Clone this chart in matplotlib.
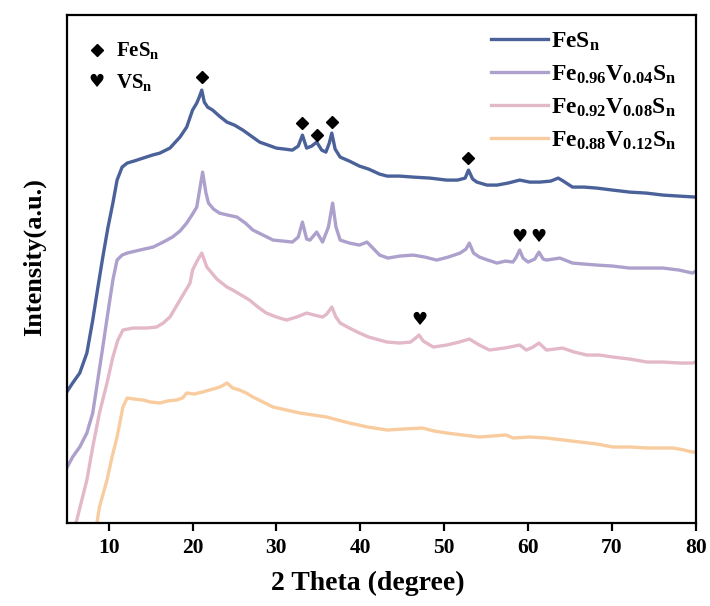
import matplotlib
matplotlib.use("Agg")
import matplotlib.pyplot as plt

plt.rcParams["font.family"] = ["Liberation Serif", "DejaVu Serif"]
plt.rcParams["font.weight"] = "bold"
plt.rcParams["mathtext.fontset"] = "custom"
plt.rcParams["mathtext.rm"] = "Liberation Serif:bold"
plt.rcParams["mathtext.bf"] = "Liberation Serif:bold"
plt.rcParams["mathtext.it"] = "Liberation Serif:bold"

# XRD patterns, values (2 theta in degree, intensity a.u.)
tt_fes = [5.0, 5.7, 6.55, 7.4, 8.1, 8.7, 9.3, 9.9, 10.5, 11.0, 11.6, 12.2, 13.0, 14.1,
          15.2, 16.1, 17.3, 18.5, 19.3, 20.0, 20.5, 20.8, 21.1, 21.4, 21.8, 22.4, 23.2,
          24.1, 25.0, 26.0, 27.0, 28.0, 29.0, 30.0, 31.0, 31.9, 32.6, 33.1, 33.6, 34.2,
          34.8, 35.4, 35.9, 36.3, 36.6, 37.0, 37.6, 38.7, 39.9, 41.0, 42.3, 43.2,
          44.7, 46.3, 48.3, 50.3, 51.6, 52.5, 52.9, 53.4, 53.9, 55.1, 56.3, 57.6, 59.0,
          60.2, 61.4, 62.7, 63.6, 64.2, 65.3, 66.7, 68.2, 70.1, 72.1, 74.1, 76.1, 78.0, 80.0]
int_fes = [131, 140, 150, 170, 203, 235, 266, 295, 320, 343, 356, 360, 362, 365,
           368, 370, 375, 386, 396, 413, 420, 426, 433, 421, 416, 413, 407,
           401, 398, 393, 387, 381, 378, 375, 374, 373, 377, 388, 375, 377,
           381, 373, 371, 380, 390, 374, 366, 362, 357, 354, 349, 347,
           347, 346, 345, 343, 343, 345, 353, 344, 341, 338, 338, 340, 343,
           341, 341, 342, 345, 342, 336, 336, 335, 333, 331, 330, 328, 327, 326]

tt_v04 = [5.0, 5.7, 6.55, 7.4, 8.1, 8.7, 9.3, 9.9, 10.5, 11.0, 11.6, 12.2, 13.7, 15.3,
          16.5, 17.6, 18.5, 19.3, 20.0, 20.5, 20.9, 21.2, 21.6, 21.9, 22.5, 23.2, 24.2,
          25.3, 26.3, 27.2, 28.4, 29.6, 30.8, 31.9, 32.6, 33.1, 33.6, 34.0, 34.8, 35.5,
          36.2, 36.7, 37.1, 37.6, 38.7, 39.9, 40.8, 41.5, 42.3, 43.3, 44.7, 46.3, 47.7,
          49.1, 50.5, 51.9, 52.6, 53.0, 53.5, 54.2, 55.2, 56.3, 57.3, 58.2, 58.6, 59.0,
          59.4, 60.0, 60.8, 61.3, 61.8, 62.2, 63.0, 63.8, 65.3, 66.7, 68.2, 70.1, 72.1,
          74.1, 76.1, 78.0, 79.6, 80.0]
int_v04 = [55, 66, 76, 90, 110, 143, 176, 210, 243, 263, 268, 270, 273, 276,
           281, 286, 292, 300, 309, 316, 336, 351, 330, 320, 314, 310, 308,
           306, 300, 293, 288, 283, 282, 281, 286, 301, 284, 283, 291, 281,
           296, 320, 296, 283, 280, 278, 281, 275, 268, 265, 267, 268, 266,
           263, 266, 270, 274, 280, 270, 266, 263, 260, 262, 261, 266, 273,
           265, 261, 264, 271, 264, 263, 264, 265, 260, 259, 258, 257, 255,
           255, 255, 253, 250, 252]

tt_v08 = [5.0, 5.6, 6.2, 6.8, 7.4, 8.1, 8.9, 9.8, 10.5, 11.1, 11.7, 12.9, 14.5, 15.7,
          16.5, 17.3, 18.5, 19.7, 20.0, 20.6, 21.1, 21.7, 22.3, 22.9, 24.1, 24.8, 25.8,
          26.8, 27.8, 28.8, 30.0, 31.2, 32.4, 33.6, 34.5, 35.5, 36.0, 36.6, 37.1, 37.6,
          38.7, 39.9, 41.0, 42.3, 43.2, 44.7, 46.0, 46.6, 47.0, 47.5, 48.7, 50.3, 51.8,
          53.0, 54.2, 55.4, 57.2, 59.0, 59.8, 60.6, 61.3, 62.2, 63.2, 64.1, 65.5, 67.0,
          68.5, 70.1, 72.1, 74.2, 76.1, 78.1, 79.6, 80.0]
int_v08 = [-25, -12, 3, 23, 43, 76, 110, 140, 166, 183, 193, 195, 195, 196,
           200, 206, 223, 240, 253, 263, 270, 256, 250, 244, 236, 233, 228,
           223, 216, 210, 206, 203, 206, 210, 208, 206, 209, 216, 206, 200,
           195, 190, 186, 183, 181, 180, 181, 185, 188, 182, 176, 178, 181,
           184, 178, 173, 175, 178, 173, 176, 180, 173, 174, 175, 171, 168,
           168, 166, 164, 161, 161, 160, 160, 161]

tt_v12 = [8.0, 8.6, 8.9, 9.8, 10.4, 11.0, 11.7, 12.2, 13.0, 14.1, 15.0, 16.1, 17.0, 18.1,
          18.8, 19.3, 20.2, 21.2, 22.0, 22.9, 23.5, 24.1, 24.8, 25.6, 26.4, 27.2, 28.4,
          29.6, 31.2, 32.8, 34.4, 36.0, 37.3, 38.7, 40.9, 43.2, 45.2, 47.4, 48.8, 50.3,
          52.2, 54.2, 55.8, 57.4, 58.2, 60.2, 62.2, 64.2, 66.2, 68.2, 70.1, 72.2, 74.2,
          75.8, 77.3, 78.6, 79.6, 80.0]
int_v12 = [-20, 0, 16, 43, 66, 86, 116, 125, 124, 123, 121, 120, 122, 123,
           125, 130, 129, 131, 133, 135, 137, 140, 135, 133, 130, 126, 121,
           116, 113, 110, 108, 106, 103, 100, 96, 93, 94, 95, 92, 90,
           88, 86, 87, 88, 85, 86, 85, 83, 81, 79, 76, 76, 75,
           75, 75, 73, 71, 71]

labels = [r"$\mathbf{FeS_n}$",
          r"$\mathbf{Fe_{0.96}V_{0.04}S_n}$",
          r"$\mathbf{Fe_{0.92}V_{0.08}S_n}$",
          r"$\mathbf{Fe_{0.88}V_{0.12}S_n}$"]
colors = ["#4A6199", "#ADA0CC", "#E3B8C9", "#F8CC9E"]

# phase markers above the peaks
fes_peak_tt = [21.1, 33.1, 34.8, 36.6, 52.9]
fes_peak_y = [446, 400, 388, 401, 365]
vs_peak_tt = [59.0, 61.3, 47.0]
vs_peak_y = [286, 286, 203]

fig = plt.figure(figsize=(7.1, 6.06), dpi=100)
ax = fig.add_axes([0.094, 0.137, 0.886, 0.838])

series = [(tt_fes, int_fes), (tt_v04, int_v04), (tt_v08, int_v08), (tt_v12, int_v12)]
for (tt, inten), lab, col in zip(series, labels, colors):
    ax.plot(tt, inten, color=col, lw=2.4, label=lab, solid_joinstyle="round")

ax.plot(fes_peak_tt, fes_peak_y, ls="none", marker="D", ms=6.5, color="black")
for t, y in zip(vs_peak_tt, vs_peak_y):
    ax.text(t, y, "\u2665", family="DejaVu Sans", fontsize=13, ha="center", va="center")

# phase key, top left
ax.plot([0.048], [0.931], transform=ax.transAxes, ls="none", marker="D", ms=6.5,
        color="black")
ax.text(0.048, 0.868, "\u2665", transform=ax.transAxes, family="DejaVu Sans",
        fontsize=13, ha="center", va="center")
ax.text(0.078, 0.931, r"$\mathbf{FeS_n}$", transform=ax.transAxes, fontsize=15,
        va="center")
ax.text(0.078, 0.868, r"$\mathbf{VS_n}$", transform=ax.transAxes, fontsize=15,
        va="center")

ax.legend(loc="upper right", bbox_to_anchor=(0.99, 0.995), frameon=False, fontsize=17,
          handlelength=2.4, handletextpad=0.12, labelspacing=0.45, borderaxespad=0.15)

ax.set_xlim(5, 80)
ax.set_ylim(0, 508)
ax.set_xticks(range(10, 81, 10))
ax.set_yticks([])
ax.tick_params(axis="x", direction="out", length=6, width=1.6, labelsize=15.5, pad=5)
for s in ax.spines.values():
    s.set_linewidth(1.6)

ax.set_xlabel("2 Theta (degree)", fontsize=20, fontweight="bold", labelpad=8)
ax.set_ylabel("Intensity(a.u.)", fontsize=19, fontweight="bold", labelpad=12)
ax.xaxis.set_label_coords(0.479, -0.095)
ax.yaxis.set_label_coords(-0.032, 0.524)

fig.savefig("out.png", dpi=100)
